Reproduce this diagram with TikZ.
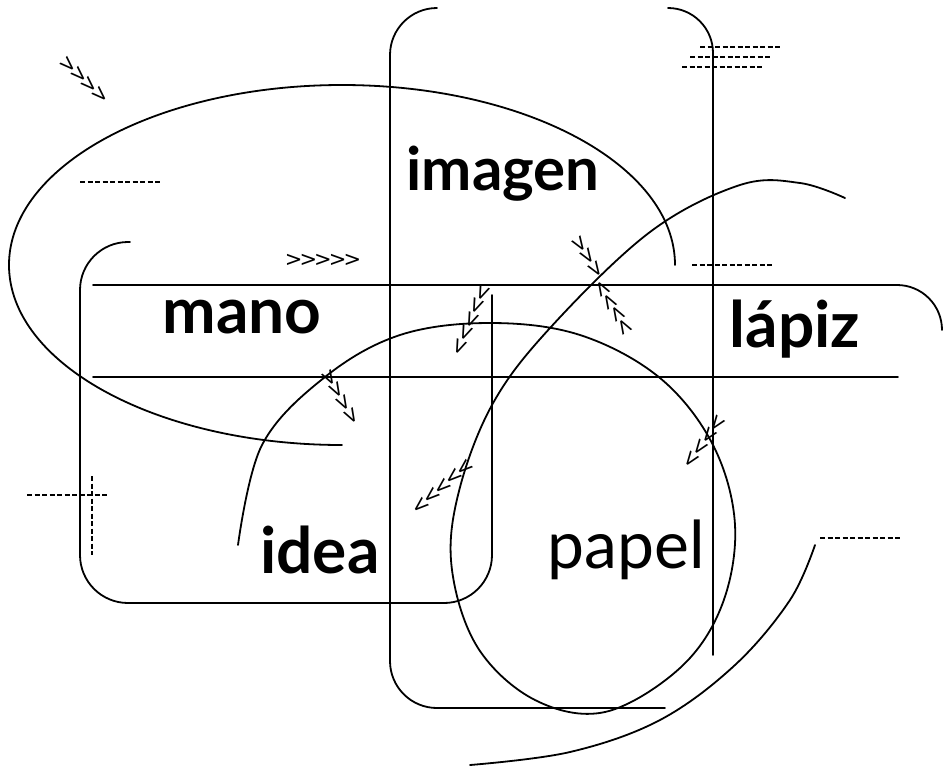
\documentclass[tikz,border=0pt]{standalone}
\usepackage{fontspec}
\setmainfont{Lato}
\newfontfamily\flechafont[LetterSpace=-14]{DejaVu Sans}

\begin{document}
\begin{tikzpicture}[x=1pt, y=-1pt,
    trazo/.style={line width=1.8pt, line cap=round},
    guiones/.style={line width=2pt, dash pattern=on 5pt off 2.5pt},
    palabra/.style={anchor=base, inner sep=0pt, font=\fontsize{64}{64}\selectfont\bfseries},
    flechas/.style={inner sep=0pt, font=\fontsize{21}{21}\flechafont}
]
    \useasboundingbox (0,0) rectangle (944,769);

    % formas grandes
    \draw[trazo] (675,265) arc[start angle=0, end angle=-270, x radius=333, y radius=180];
    \draw[trazo, rounded corners=47] (437,8) -- (390,8) -- (390,708) -- (665,708);
    \draw[trazo, rounded corners=45] (668,8) -- (713,8) -- (713,655);
    \draw[trazo, rounded corners=48] (130,242) -- (80,242) -- (80,603) -- (492,603) -- (492,295);
    \draw[trazo, rounded corners=45] (93,285) -- (942,285) -- (942,330);
    \draw[trazo] (93,377) -- (898,377);

    % espiral y curva de abajo
    \draw[trazo] plot[smooth, tension=0.6] coordinates {(238,545) (262,445) (325,377) (400,335)
        (490,323) (580,335) (660,378) (713,445) (735,525) (722,605) (680,668) (605,712)
        (535,700) (478,648) (452,570) (458,495) (492,405) (550,328) (650,232) (740,185)
        (800,183) (845,198)};
    \draw[trazo] plot[smooth, tension=0.6] coordinates {(470,765) (570,752) (660,720)
        (735,665) (790,600) (815,545)};

    % guiones
    \draw[guiones] (80,182) -- (160,182);
    \draw[guiones] (700,47) -- (780,47);
    \draw[guiones] (690,57) -- (770,57);
    \draw[guiones] (682,67) -- (762,67);
    \draw[guiones] (692,265) -- (772,265);
    \draw[guiones] (27,495) -- (107,495);
    \draw[guiones] (92,476) -- (92,555);
    \draw[guiones] (820,538) -- (900,538);

    % flechas
    \node[flechas, rotate=-44] (fa) at (84,80) {>>>>};
    \node[flechas] (fb) at (323,260) {>>>>>};
    \node[flechas, rotate=-57] (fc) at (587,257) {>>>};
    \node[flechas, rotate=-60] (fd) at (613,308) {<<<<};
    \node[flechas, rotate=67] (fe) at (472,320) {<<<<<};
    \node[flechas, rotate=-61] (ff) at (340,397) {>>>>};
    \node[flechas, rotate=54] (fg) at (705,442) {<<<<};
    \node[flechas, rotate=41] (fh) at (443,487) {<<<<<};

    % palabras
    \node[palabra, font=\fontsize{60}{60}\selectfont\bfseries] (imagen) at (503,190) {imagen};
    \node[palabra] (mano) at (242,333) {mano};
    \node[palabra] (lapiz) at (795,347) {lápiz};
    \node[palabra] (idea) at (320,573) {idea};
    \node[palabra, font=\fontsize{66}{66}\selectfont] (papel) at (626,568) {papel};
\end{tikzpicture}
\end{document}
